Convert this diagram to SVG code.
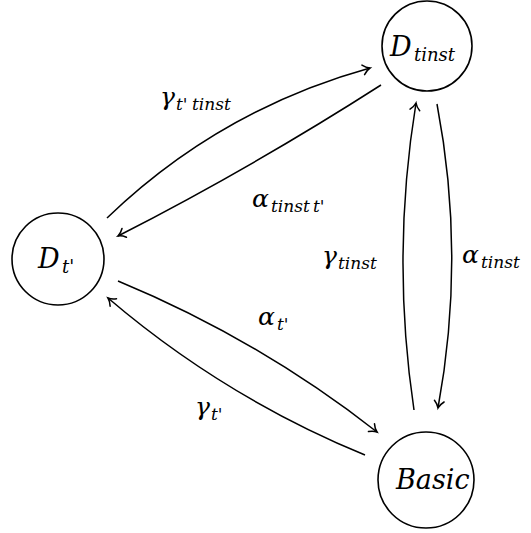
<svg xmlns="http://www.w3.org/2000/svg" width="531" height="533" viewBox="0 0 531 533">
  <style>
    .node { fill: #fff; stroke: #000; stroke-width: 1.6; }
    .edge { fill: none; stroke: #000; stroke-width: 1.5; marker-end: url(#tip); }
    text { font-family: "DejaVu Serif", "Liberation Serif", serif; font-style: italic; fill: #000; }
    .main { font-size: 27px; }
    .lbl { font-size: 25px; }
    .sub { font-size: 18px; }
    .lsub { font-size: 17px; }
  </style>
  <defs>
    <marker id="tip" markerUnits="userSpaceOnUse" markerWidth="14" markerHeight="14" refX="0" refY="0" viewBox="-8 -6 10 12" orient="auto">
      <path d="M -6,-4.2 C -3.5,-1.4 -1.2,-0.4 0,0 C -1.2,0.4 -3.5,1.4 -6,4.2" fill="none" stroke="#000" stroke-width="1.3" stroke-linecap="round"/>
    </marker>
  </defs>

  <g id="connectors">
    <path id="e-gamma-ttinst" class="edge" d="M 107,218 Q 219,110 370,68"/>
    <path id="e-alpha-tinstt" class="edge" d="M 381,85 Q 253,167 118,236"/>
    <path id="e-gamma-tinst" class="edge" d="M 414,410 Q 391,256 416,103"/>
    <path id="e-alpha-tinst" class="edge" d="M 437,104 Q 466,256 438,408"/>
    <path id="e-alpha-t" class="edge" d="M 118,281 Q 258,339 377,432"/>
    <path id="e-gamma-t" class="edge" d="M 365,455 Q 224,397 108,298"/>
  </g>

  <g id="node-dtinst">
    <circle class="node" cx="427" cy="46" r="45"/>
    <text class="main" x="390" y="56">D<tspan class="sub" x="414" dy="5">tinst</tspan></text>
  </g>
  <g id="node-dt">
    <circle class="node" cx="58" cy="259" r="46"/>
    <text class="main" x="38" y="268">D<tspan class="sub" x="62" dy="5">t'</tspan></text>
  </g>
  <g id="node-basic">
    <circle class="node" cx="426" cy="480" r="48"/>
    <text class="main" x="396" y="489">Basic</text>
  </g>

  <g id="labels">
    <text class="lbl" x="160" y="105">γ<tspan class="lsub" x="176" dy="5">t'</tspan><tspan class="lsub" x="192">tinst</tspan></text>
    <text class="lbl" x="252" y="207">α<tspan class="lsub" x="271" dy="5">tinst</tspan><tspan class="lsub" x="313">t'</tspan></text>
    <text class="lbl" x="322" y="264">γ<tspan class="lsub" x="338" dy="5">tinst</tspan></text>
    <text class="lbl" x="462" y="263">α<tspan class="lsub" x="481" dy="5">tinst</tspan></text>
    <text class="lbl" x="258" y="325">α<tspan class="lsub" x="277" dy="5">t'</tspan></text>
    <text class="lbl" x="195" y="415">γ<tspan class="lsub" x="211" dy="5">t'</tspan></text>
  </g>
</svg>
